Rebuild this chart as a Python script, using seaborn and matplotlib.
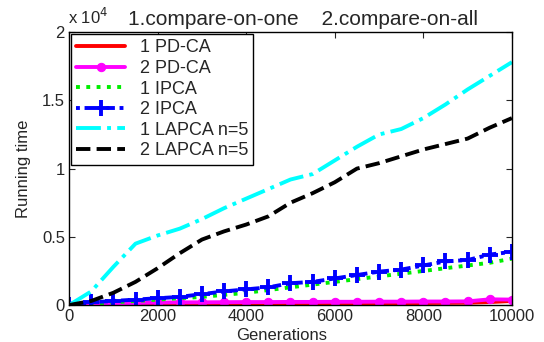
import numpy as np
import pandas as pd
import seaborn as sns
import matplotlib
matplotlib.use("Agg")
import matplotlib.pyplot as plt

# running time values in units of 1e4
generations = list(range(0, 10001, 500))
pdca_1 = [0.0, 0.003, 0.005, 0.006, 0.007, 0.008, 0.009, 0.01, 0.01, 0.011, 0.012,
          0.012, 0.013, 0.013, 0.014, 0.014, 0.015, 0.016, 0.017, 0.022, 0.03]
pdca_2 = [0.0, 0.01, 0.012, 0.015, 0.018, 0.02, 0.02, 0.021, 0.022, 0.022, 0.023,
          0.023, 0.024, 0.024, 0.025, 0.025, 0.026, 0.026, 0.027, 0.042, 0.04]
ipca_1 = [0.0, 0.01, 0.02, 0.03, 0.04, 0.05, 0.06, 0.075, 0.09, 0.11, 0.13,
          0.15, 0.17, 0.19, 0.21, 0.23, 0.25, 0.27, 0.29, 0.31, 0.34]
ipca_2 = [0.0, 0.02, 0.03, 0.04, 0.05, 0.06, 0.08, 0.10, 0.115, 0.13, 0.16,
          0.17, 0.195, 0.22, 0.245, 0.26, 0.29, 0.32, 0.33, 0.37, 0.39]
lapca_1 = [0.0, 0.10, 0.28, 0.45, 0.51, 0.56, 0.63, 0.71, 0.78, 0.85, 0.92,
           0.96, 1.06, 1.16, 1.25, 1.29, 1.37, 1.47, 1.58, 1.68, 1.78]
lapca_2 = [0.0, 0.03, 0.09, 0.17, 0.27, 0.38, 0.48, 0.54, 0.59, 0.65, 0.75,
           0.82, 0.90, 1.00, 1.04, 1.09, 1.14, 1.18, 1.22, 1.30, 1.37]
labels = ["1 PD-CA", "2 PD-CA", "1 IPCA", "2 IPCA", "1 LAPCA n=5", "2 LAPCA n=5"]

sns.set_style("ticks")
plt.rcParams["font.family"] = ["Liberation Sans", "DejaVu Sans"]

fig = plt.figure(figsize=(5.44, 3.42), dpi=100)
ax = fig.add_axes([0.127, 0.108, 0.814, 0.798])

series = [pdca_1, pdca_2, ipca_1, ipca_2, lapca_1, lapca_2]
styles = [
    dict(color="#ff0000", linestyle="-", marker=None),
    dict(color="#ff00ff", linestyle="-", marker="o", markersize=6,
         markeredgecolor="#ff00ff", markerfacecolor="#ff00ff"),
    dict(color="#00ee00", linestyle=":", marker=None),
    dict(color="#0000ff", linestyle=(0, (1, 1.2, 2.2, 1.2)), marker="+", markersize=11,
         markeredgewidth=2.8, markeredgecolor="#0000ff"),
    dict(color="#00ffff", linestyle="-.", marker=None),
    dict(color="#000000", linestyle="--", marker=None),
]
for vals, lab, st in zip(series, labels, styles):
    sns.lineplot(x=generations, y=vals, ax=ax, label=lab, linewidth=2.8, **st)

ax.set_xlim(0, 10000)
ax.set_ylim(0, 2)
ax.set_xticks([0, 2000, 4000, 6000, 8000, 10000])
ax.set_yticks([0, 0.5, 1, 1.5, 2])
ax.set_yticklabels(["0", "0.5", "1", "1.5", "2"])
ax.tick_params(direction="in", top=True, right=True, labelsize=12, length=4, width=0.8, pad=3)
for s in ax.spines.values():
    s.set_linewidth(1.0)
    s.set_color("black")

ax.set_xlabel("Generations", fontsize=12, labelpad=1.5)
ax.xaxis.set_label_coords(0.48, -0.085)
ax.set_ylabel("Running time", fontsize=12, labelpad=8)
ax.text(0.133, 1.012, "1.compare-on-one    2.compare-on-all", transform=ax.transAxes,
        fontsize=15, ha="left", va="bottom")
ax.text(-0.003, 1.02, "x 10$^4$", transform=ax.transAxes, fontsize=12, ha="left", va="bottom")

leg = ax.legend(loc="upper left", fontsize=13, handlelength=2.7, frameon=True, fancybox=False,
                edgecolor="black", framealpha=1, borderaxespad=0.1, labelspacing=0.2,
                handletextpad=0.8, borderpad=0.3)
leg.get_frame().set_linewidth(1.0)

fig.savefig("out.png", dpi=100)
